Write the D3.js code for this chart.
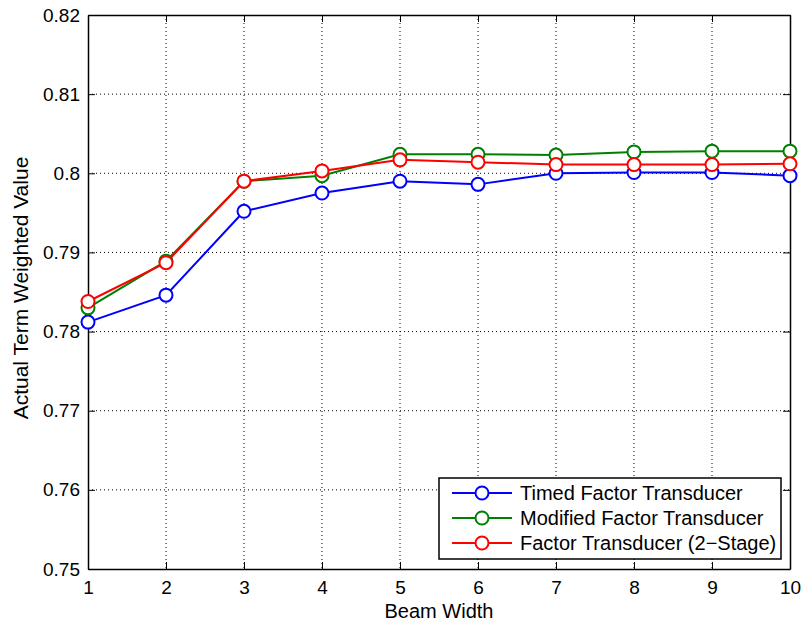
<!DOCTYPE html>
<html>
<head>
<meta charset="utf-8">
<script src="https://cdn.jsdelivr.net/npm/d3@7"></script>
<style>
  body { margin: 0; background: #fff; }
  svg text { font-family: "Liberation Sans", Arial, sans-serif; }
</style>
</head>
<body>
<div id="chart"></div>
<script>
var beamWidths = [1, 2, 3, 4, 5, 6, 7, 8, 9, 10];
var timedFactor = [0.7812, 0.7846, 0.7952, 0.7975, 0.7990, 0.7986, 0.8000, 0.8001, 0.8001, 0.7997];
var modifiedFactor = [0.7830, 0.7889, 0.7990, 0.7997, 0.8024, 0.8024, 0.8023, 0.8027, 0.8028, 0.8028];
var twoStage = [0.7838, 0.7887, 0.7990, 0.8003, 0.8017, 0.8014, 0.8011, 0.8011, 0.8011, 0.8012];
var seriesNames = ["Timed Factor Transducer", "Modified Factor Transducer", "Factor Transducer (2\u2212Stage)"];
var seriesColors = ["#0000ff", "#008000", "#ff0000"];
var yTicks = [0.75, 0.76, 0.77, 0.78, 0.79, 0.80, 0.81, 0.82];
var yTickLabels = ["0.75", "0.76", "0.77", "0.78", "0.79", "0.8", "0.81", "0.82"];

var width = 803, height = 621,
    margin = {left: 88, top: 15, right: 13, bottom: 52},
    plotW = width - margin.left - margin.right,
    plotH = height - margin.top - margin.bottom;

var svg = d3.select('#chart').append('svg')
    .attr('width', width).attr('height', height);

var g = svg.append('g').attr('transform', 'translate(' + margin.left + ',' + margin.top + ')');

var x = d3.scaleLinear().domain([1, 10]).range([0, plotW]);
var y = d3.scaleLinear().domain([0.75, 0.82]).range([plotH, 0]);

// dotted grid
g.append('g').selectAll('line')
    .data(beamWidths.slice(1, -1))
  .enter().append('line')
    .attr('x1', function(d) { return x(d); }).attr('x2', function(d) { return x(d); })
    .attr('y1', 0).attr('y2', plotH)
    .attr('stroke', '#000').attr('stroke-width', 1).attr('stroke-dasharray', '1,3');
g.append('g').selectAll('line')
    .data(yTicks.slice(1, -1))
  .enter().append('line')
    .attr('x1', 0).attr('x2', plotW)
    .attr('y1', function(d) { return y(d); }).attr('y2', function(d) { return y(d); })
    .attr('stroke', '#000').attr('stroke-width', 1).attr('stroke-dasharray', '1,3');

// axes, ticks pointing in, closed box
var xAxis = g.append('g').attr('transform', 'translate(0,' + plotH + ')')
    .call(d3.axisBottom(x).tickValues(beamWidths).tickSizeInner(-7).tickSizeOuter(0).tickPadding(12));
var xTop = g.append('g')
    .call(d3.axisTop(x).tickValues(beamWidths).tickSizeInner(-7).tickSizeOuter(0).tickFormat(''));
var yAxis = g.append('g')
    .call(d3.axisLeft(y).tickValues(yTicks).tickSizeInner(-7).tickSizeOuter(0).tickPadding(8)
      .tickFormat(function(d, i) { return yTickLabels[i]; }));
var yRight = g.append('g').attr('transform', 'translate(' + plotW + ',0)')
    .call(d3.axisRight(y).tickValues(yTicks).tickSizeInner(-7).tickSizeOuter(0).tickFormat(''));

[xAxis, xTop, yAxis, yRight].forEach(function(a) {
  a.selectAll('path').attr('stroke', '#000').attr('stroke-width', 1.5);
  a.selectAll('line').attr('stroke', '#000');
  a.selectAll('text').attr('font-size', 19).attr('fill', '#000')
    .style('font-family', '"Liberation Sans", Arial, sans-serif');
});

// axis titles
svg.append('text')
    .attr('x', margin.left + plotW / 2).attr('y', 618)
    .attr('text-anchor', 'middle').attr('font-size', 20).text('Beam Width');
svg.append('text')
    .attr('transform', 'translate(28,288) rotate(-90)')
    .attr('text-anchor', 'middle').attr('font-size', 21).text('Actual Term Weighted Value');

// lines + markers
var allSeries = [timedFactor, modifiedFactor, twoStage];
var line = d3.line()
    .x(function(d, i) { return x(beamWidths[i]); })
    .y(function(d) { return y(d); });

allSeries.forEach(function(vals, si) {
  g.append('path').datum(vals)
    .attr('d', line).attr('fill', 'none')
    .attr('stroke', seriesColors[si]).attr('stroke-width', 2);
  g.selectAll('circle.s' + si).data(vals)
    .enter().append('circle')
    .attr('class', 's' + si)
    .attr('cx', function(d, i) { return x(beamWidths[i]); })
    .attr('cy', function(d) { return y(d); })
    .attr('r', 6.5)
    .attr('fill', '#fff')
    .attr('stroke', seriesColors[si]).attr('stroke-width', 2);
});

// legend
var legend = svg.append('g').attr('transform', 'translate(439,478)');
legend.append('rect')
    .attr('width', 342).attr('height', 81)
    .attr('fill', '#fff').attr('stroke', '#000').attr('stroke-width', 1.5);
seriesNames.forEach(function(name, i) {
  var row = legend.append('g').attr('transform', 'translate(0,' + (15 + i * 25) + ')');
  row.append('line').attr('x1', 13).attr('x2', 73).attr('y1', 0).attr('y2', 0)
    .attr('stroke', seriesColors[i]).attr('stroke-width', 2);
  row.append('circle').attr('cx', 43).attr('cy', 0).attr('r', 6.5)
    .attr('fill', '#fff').attr('stroke', seriesColors[i]).attr('stroke-width', 2);
  row.append('text').attr('x', 81).attr('y', 7)
    .attr('font-size', 20).text(name);
});
</script>
</body>
</html>
